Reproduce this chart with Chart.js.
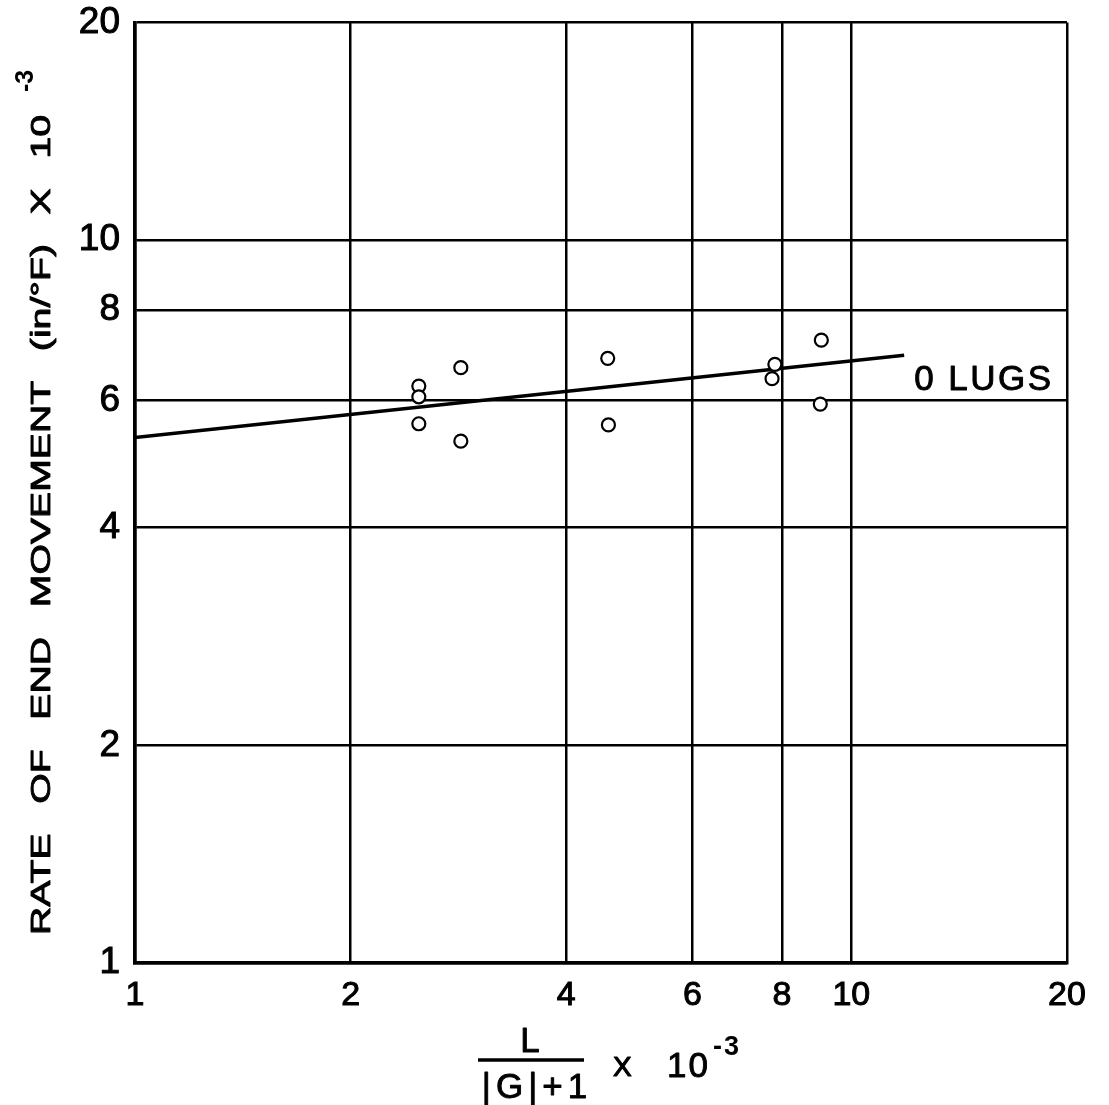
<!DOCTYPE html>
<html>
<head>
<meta charset="utf-8">
<script src="https://cdn.jsdelivr.net/npm/chart.js@4/dist/chart.umd.min.js"></script>
<style>
  html, body { margin: 0; padding: 0; background: #fff; }
  #wrap { width: 1109px; height: 1105px; }
</style>
</head>
<body>
<div id="wrap"><canvas id="chart" width="1109" height="1105"></canvas></div>
<script>
// data (log-log)
const xTicks = [1, 2, 4, 6, 8, 10, 20];
const yTicks = [1, 2, 4, 6, 8, 10, 20];
const pointX = [2.49, 2.49, 2.49, 2.85, 2.85, 4.57, 4.58, 7.82, 7.75, 9.08, 9.05];
const pointY = [6.28, 6.07, 5.57, 6.66, 5.27, 6.86, 5.55, 6.73, 6.43, 7.27, 5.93];
const fitX = [1, 11.85];
const fitY = [5.33, 6.93];
const seriesLabel = '0 LUGS';
const yTitle = 'RATE OF END MOVEMENT (in/\u00B0F) X 10';
const xTitleNum = 'L';
const xTitleDen = '|G|+1';
const expText = '-3';

const FONT = '"Liberation Sans", Arial, sans-serif';

// fill plus a thin stroke, to get the weight of the hand lettering
function letter(ctx, txt, x, y) {
  ctx.fillText(txt, x, y);
  ctx.strokeText(txt, x, y);
}

const titles = {
  id: 'titles',
  afterDraw(chart) {
    const { ctx } = chart;
    const xs = chart.scales.x, ys = chart.scales.y;
    ctx.save();
    ctx.fillStyle = '#000';
    ctx.strokeStyle = '#000';
    ctx.lineJoin = 'round';
    ctx.textBaseline = 'alphabetic';
    ctx.lineWidth = 0.9;

    // series label at end of fit line
    ctx.font = '35px ' + FONT;
    ctx.textAlign = 'left';
    ctx.letterSpacing = '2.5px';
    letter(ctx, seriesLabel,
      xs.getPixelForValue(fitX[1]) + 10,
      ys.getPixelForValue(fitY[1]) + 35);

    // x title: fraction
    ctx.textAlign = 'center';
    ctx.font = '35px ' + FONT;
    ctx.letterSpacing = '0px';
    letter(ctx, xTitleNum, 530, 1052);
    ctx.letterSpacing = '5px';
    letter(ctx, xTitleDen, 537, 1098);
    ctx.letterSpacing = '0px';
    ctx.lineWidth = 3.5;
    ctx.beginPath();
    ctx.moveTo(478, 1060);
    ctx.lineTo(584, 1060);
    ctx.stroke();
    ctx.lineWidth = 1.2;
    ctx.textAlign = 'left';
    ctx.font = '28px ' + FONT;
    letter(ctx, 'X', 613, 1076);
    ctx.lineWidth = 0.9;
    ctx.font = '35px ' + FONT;
    ctx.letterSpacing = '2px';
    letter(ctx, '10', 667, 1077);
    ctx.font = 'bold 27px ' + FONT;
    ctx.fillText(expText, 713, 1055);
    ctx.letterSpacing = '0px';

    // y title, rotated and stretched
    ctx.save();
    ctx.translate(50, 935);
    ctx.rotate(-Math.PI / 2);
    ctx.font = '28px ' + FONT;
    const sx = 1.4;
    const nSp = yTitle.split(' ').length - 1;
    const w0 = ctx.measureText(yTitle).width;
    ctx.wordSpacing = Math.max(0, (820 / sx - w0) / nSp) + 'px';
    ctx.scale(sx, 1);
    letter(ctx, yTitle, 0, 0);
    ctx.restore();
    ctx.save();
    ctx.translate(33, 935);
    ctx.rotate(-Math.PI / 2);
    ctx.font = 'bold 25px ' + FONT;
    ctx.fillText(expText, 843, 0);
    ctx.restore();

    ctx.restore();
  }
};

const logScale = (ticks, extra) => Object.assign({
  type: 'logarithmic',
  min: 1,
  max: 20,
  afterBuildTicks(scale) { scale.ticks = ticks.map(v => ({ value: v })); },
  grid: { color: '#000', lineWidth: 2.5, drawTicks: false },
  border: { display: true, color: '#000', width: 3.5 }
}, extra);

new Chart(document.getElementById('chart'), {
  type: 'scatter',
  data: {
    datasets: [
      {
        label: 'fit',
        data: fitX.map((x, i) => ({ x, y: fitY[i] })),
        showLine: true,
        borderColor: '#000',
        borderWidth: 3.5,
        pointRadius: 0,
        order: 2
      },
      {
        label: seriesLabel,
        data: pointX.map((x, i) => ({ x, y: pointY[i] })),
        pointRadius: 6.5,
        pointBorderWidth: 2.2,
        borderColor: '#000',
        backgroundColor: '#fff',
        order: 1
      }
    ]
  },
  options: {
    responsive: false,
    animation: false,
    layout: { padding: { top: 22, right: 42, left: 0, bottom: 0 } },
    plugins: { legend: { display: false }, tooltip: { enabled: false } },
    scales: {
      x: logScale(xTicks, {
        afterFit(scale) { scale.height = 142; },
        ticks: {
          color: '#000',
          font: { family: FONT, size: 34 },
          textStrokeColor: '#000',
          textStrokeWidth: 1,
          autoSkip: false,
          maxRotation: 0,
          padding: 12,
          callback: v => String(v)
        }
      }),
      y: logScale(yTicks, {
        afterFit(scale) { scale.width = 135; },
        ticks: {
          color: '#000',
          font: { family: FONT, size: 37, lineHeight: 0.4 },
          textStrokeColor: '#000',
          textStrokeWidth: 1,
          autoSkip: false,
          padding: 15,
          callback: v => String(v)
        }
      })
    }
  },
  plugins: [titles]
});
</script>
</body>
</html>
